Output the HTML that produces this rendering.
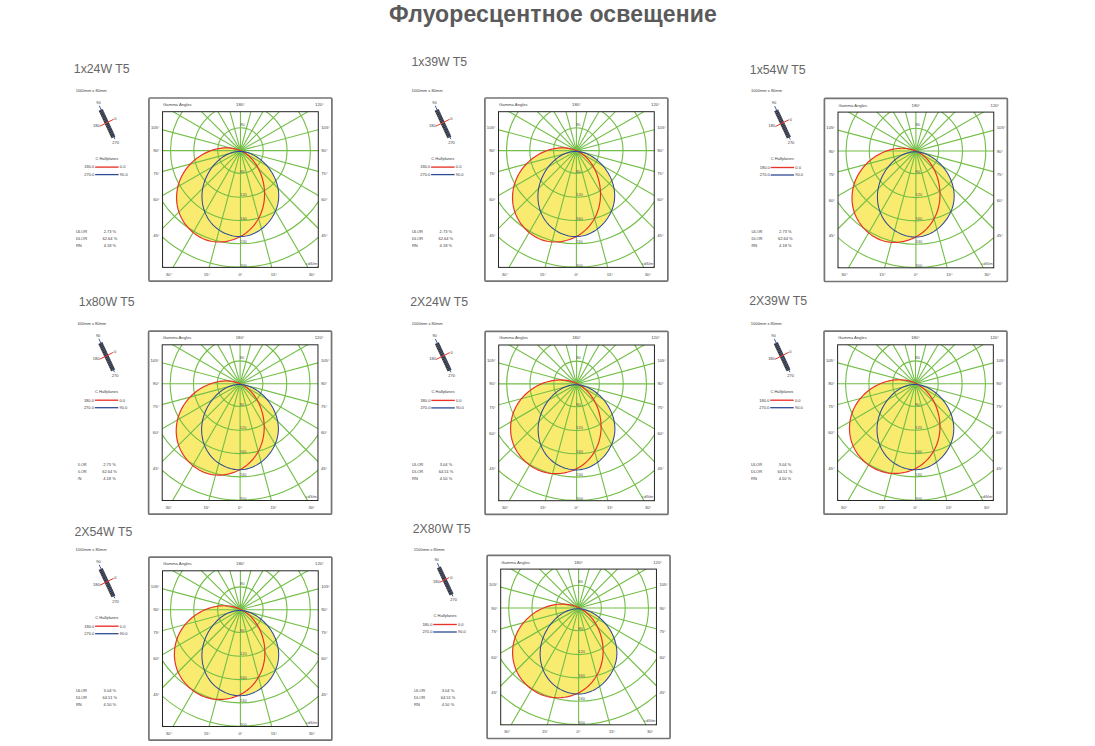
<!DOCTYPE html>
<html><head><meta charset="utf-8"><style>html,body{margin:0;padding:0;background:#fff;width:1095px;height:746px;overflow:hidden}svg{display:block}</style></head>
<body><svg width="1095" height="746" viewBox="0 0 1095 746">
<defs><clipPath id="ic"><rect x="-77.9" y="-38.9" width="155.75" height="155.7"/></clipPath><clipPath id="lc"><rect x="-162.3" y="-70" width="400" height="220"/></clipPath><g id="p1"><rect x="-91.5" y="-52.6" width="182.95" height="183.1" rx="1" fill="none" stroke="#747474" stroke-width="1.7"/><g clip-path="url(#ic)"><path d="M0.02,0.02 -1.53,-0.61 -3.12,-1.15 -4.74,-1.62 -6.40,-2.00 -8.08,-2.30 -9.78,-2.52 -11.51,-2.67 -13.25,-2.73 -15.01,-2.73 -16.77,-2.64 -18.55,-2.49 -20.32,-2.26 -22.10,-1.97 -23.87,-1.60 -25.63,-1.17 -27.38,-0.66 -29.12,-0.10 -30.84,0.54 -32.54,1.23 -34.22,1.99 -35.87,2.80 -37.49,3.68 -39.09,4.61 -40.65,5.59 -42.18,6.63 -43.67,7.72 -45.12,8.86 -46.53,10.05 -47.89,11.28 -49.22,12.56 -50.49,13.88 -51.71,15.25 -52.89,16.65 -54.01,18.09 -55.08,19.56 -56.10,21.07 -57.06,22.62 -57.96,24.19 -58.80,25.79 -59.58,27.42 -60.30,29.07 -60.95,30.75 -61.54,32.45 -62.07,34.16 -62.52,35.90 -62.92,37.64 -63.24,39.40 -63.50,41.17 -63.70,42.94 -63.82,44.71 -63.88,46.49 -63.87,48.27 -63.79,50.05 -63.64,51.81 -63.42,53.57 -63.13,55.33 -62.77,57.06 -62.34,58.79 -61.84,60.49 -61.27,62.18 -60.62,63.84 -59.91,65.48 -59.13,67.09 -58.28,68.67 -57.37,70.22 -56.41,71.73 -55.38,73.21 -54.30,74.64 -53.16,76.04 -51.98,77.39 -50.74,78.69 -49.45,79.94 -48.13,81.15 -46.75,82.29 -45.34,83.38 -43.89,84.41 -42.40,85.38 -40.88,86.29 -39.32,87.13 -37.74,87.90 -36.12,88.59 -34.49,89.22 -32.82,89.76 -31.14,90.23 -29.44,90.62 -27.72,90.93 -25.99,91.16 -24.25,91.32 -22.50,91.40 -20.74,91.40 -18.99,91.33 -17.23,91.19 -15.48,90.98 -13.74,90.70 -12.00,90.35 -10.28,89.94 -8.57,89.45 -6.88,88.90 -5.21,88.29 -3.57,87.61 -1.95,86.87 -0.36,86.07 1.20,85.21 2.72,84.29 4.21,83.31 5.65,82.27 7.05,81.18 8.41,80.04 9.71,78.84 10.97,77.58 12.17,76.28 13.32,74.93 14.42,73.54 15.46,72.10 16.45,70.62 17.38,69.10 18.26,67.54 19.08,65.95 19.84,64.32 20.54,62.66 21.18,60.97 21.76,59.26 22.27,57.52 22.73,55.75 23.12,53.97 23.45,52.16 23.71,50.34 23.91,48.51 24.04,46.66 24.11,44.80 24.12,42.94 24.06,41.07 23.94,39.21 23.76,37.35 23.52,35.49 23.22,33.65 22.86,31.81 22.44,29.99 21.96,28.19 21.43,26.42 20.84,24.66 20.20,22.94 19.50,21.24 18.75,19.58 17.95,17.95 17.09,16.37 16.18,14.82 15.22,13.33 14.21,11.88 13.16,10.48 12.05,9.14 10.89,7.85 9.69,6.63 8.44,5.47 7.15,4.38 5.81,3.35 4.43,2.40 3.00,1.53 1.53,0.73Z" fill="#f8eb70"/><path d="M-0.25,0.80 1.21,0.88 2.67,1.04 4.13,1.29 5.58,1.61 7.04,2.01 8.48,2.48 9.91,3.03 11.34,3.64 12.75,4.31 14.14,5.05 15.51,5.85 16.86,6.71 18.19,7.62 19.50,8.59 20.77,9.61 22.01,10.67 23.23,11.78 24.40,12.93 25.54,14.12 26.64,15.35 27.70,16.61 28.71,17.91 29.68,19.24 30.60,20.59 31.48,21.98 32.30,23.38 33.08,24.82 33.81,26.27 34.49,27.75 35.12,29.24 35.69,30.75 36.21,32.27 36.68,33.81 37.08,35.35 37.44,36.91 37.73,38.47 37.96,40.04 38.13,41.61 38.24,43.19 38.29,44.76 38.27,46.33 38.19,47.90 38.04,49.46 37.82,51.02 37.54,52.57 37.20,54.10 36.79,55.62 36.32,57.13 35.80,58.62 35.21,60.09 34.57,61.54 33.88,62.97 33.13,64.37 32.34,65.75 31.49,67.09 30.60,68.41 29.66,69.70 28.67,70.95 27.65,72.17 26.58,73.34 25.48,74.48 24.33,75.58 23.16,76.63 21.94,77.64 20.70,78.60 19.42,79.51 18.12,80.37 16.78,81.18 15.42,81.93 14.04,82.62 12.64,83.26 11.21,83.83 9.77,84.35 8.30,84.79 6.82,85.18 5.33,85.49 3.83,85.73 2.31,85.90 0.79,86.00 -0.75,86.02 -2.28,85.98 -3.82,85.86 -5.35,85.67 -6.88,85.42 -8.40,85.09 -9.92,84.71 -11.41,84.26 -12.90,83.75 -14.36,83.18 -15.80,82.55 -17.22,81.86 -18.61,81.12 -19.96,80.32 -21.29,79.47 -22.58,78.57 -23.83,77.62 -25.04,76.62 -26.20,75.57 -27.32,74.48 -28.38,73.34 -29.40,72.16 -30.36,70.94 -31.27,69.68 -32.13,68.38 -32.94,67.05 -33.69,65.69 -34.39,64.29 -35.04,62.87 -35.63,61.42 -36.16,59.95 -36.64,58.45 -37.07,56.93 -37.44,55.40 -37.76,53.85 -38.02,52.28 -38.22,50.70 -38.36,49.11 -38.45,47.51 -38.48,45.90 -38.45,44.29 -38.36,42.67 -38.21,41.06 -38.01,39.45 -37.74,37.84 -37.42,36.23 -37.03,34.63 -36.59,33.04 -36.10,31.47 -35.55,29.91 -34.95,28.36 -34.29,26.83 -33.59,25.33 -32.84,23.85 -32.05,22.39 -31.21,20.96 -30.33,19.56 -29.40,18.19 -28.44,16.86 -27.43,15.56 -26.40,14.30 -25.32,13.09 -24.21,11.92 -23.07,10.79 -21.90,9.71 -20.70,8.68 -19.47,7.70 -18.22,6.78 -16.94,5.92 -15.64,5.11 -14.32,4.37 -12.97,3.69 -11.61,3.07 -10.23,2.53 -8.84,2.05 -7.43,1.65 -6.01,1.32 -4.58,1.07 -3.15,0.90 -1.70,0.81Z" fill="#f8eb70"/><g fill="none" stroke="#72be46" stroke-width="1.1"><circle cx="0" cy="0" r="22.80"/><circle cx="0" cy="0" r="46.60"/><circle cx="0" cy="0" r="69.90"/><circle cx="0" cy="0" r="93.20"/><circle cx="0" cy="0" r="116.50"/><circle cx="0" cy="0" r="139.80"/><line x1="-220.00" y1="-0.00" x2="220.00" y2="0.00"/><line x1="-212.50" y1="-56.94" x2="212.50" y2="56.94"/><line x1="-190.53" y1="-110.00" x2="190.53" y2="110.00"/><line x1="-155.56" y1="-155.56" x2="155.56" y2="155.56"/><line x1="-110.00" y1="-190.53" x2="110.00" y2="190.53"/><line x1="-56.94" y1="-212.50" x2="56.94" y2="212.50"/><line x1="-0.00" y1="-220.00" x2="0.00" y2="220.00"/><line x1="56.94" y1="-212.50" x2="-56.94" y2="212.50"/><line x1="110.00" y1="-190.53" x2="-110.00" y2="190.53"/><line x1="155.56" y1="-155.56" x2="-155.56" y2="155.56"/><line x1="190.53" y1="-110.00" x2="-190.53" y2="110.00"/><line x1="212.50" y1="-56.94" x2="-212.50" y2="56.94"/></g><path d="M0.02,0.02 -1.53,-0.61 -3.12,-1.15 -4.74,-1.62 -6.40,-2.00 -8.08,-2.30 -9.78,-2.52 -11.51,-2.67 -13.25,-2.73 -15.01,-2.73 -16.77,-2.64 -18.55,-2.49 -20.32,-2.26 -22.10,-1.97 -23.87,-1.60 -25.63,-1.17 -27.38,-0.66 -29.12,-0.10 -30.84,0.54 -32.54,1.23 -34.22,1.99 -35.87,2.80 -37.49,3.68 -39.09,4.61 -40.65,5.59 -42.18,6.63 -43.67,7.72 -45.12,8.86 -46.53,10.05 -47.89,11.28 -49.22,12.56 -50.49,13.88 -51.71,15.25 -52.89,16.65 -54.01,18.09 -55.08,19.56 -56.10,21.07 -57.06,22.62 -57.96,24.19 -58.80,25.79 -59.58,27.42 -60.30,29.07 -60.95,30.75 -61.54,32.45 -62.07,34.16 -62.52,35.90 -62.92,37.64 -63.24,39.40 -63.50,41.17 -63.70,42.94 -63.82,44.71 -63.88,46.49 -63.87,48.27 -63.79,50.05 -63.64,51.81 -63.42,53.57 -63.13,55.33 -62.77,57.06 -62.34,58.79 -61.84,60.49 -61.27,62.18 -60.62,63.84 -59.91,65.48 -59.13,67.09 -58.28,68.67 -57.37,70.22 -56.41,71.73 -55.38,73.21 -54.30,74.64 -53.16,76.04 -51.98,77.39 -50.74,78.69 -49.45,79.94 -48.13,81.15 -46.75,82.29 -45.34,83.38 -43.89,84.41 -42.40,85.38 -40.88,86.29 -39.32,87.13 -37.74,87.90 -36.12,88.59 -34.49,89.22 -32.82,89.76 -31.14,90.23 -29.44,90.62 -27.72,90.93 -25.99,91.16 -24.25,91.32 -22.50,91.40 -20.74,91.40 -18.99,91.33 -17.23,91.19 -15.48,90.98 -13.74,90.70 -12.00,90.35 -10.28,89.94 -8.57,89.45 -6.88,88.90 -5.21,88.29 -3.57,87.61 -1.95,86.87 -0.36,86.07 1.20,85.21 2.72,84.29 4.21,83.31 5.65,82.27 7.05,81.18 8.41,80.04 9.71,78.84 10.97,77.58 12.17,76.28 13.32,74.93 14.42,73.54 15.46,72.10 16.45,70.62 17.38,69.10 18.26,67.54 19.08,65.95 19.84,64.32 20.54,62.66 21.18,60.97 21.76,59.26 22.27,57.52 22.73,55.75 23.12,53.97 23.45,52.16 23.71,50.34 23.91,48.51 24.04,46.66 24.11,44.80 24.12,42.94 24.06,41.07 23.94,39.21 23.76,37.35 23.52,35.49 23.22,33.65 22.86,31.81 22.44,29.99 21.96,28.19 21.43,26.42 20.84,24.66 20.20,22.94 19.50,21.24 18.75,19.58 17.95,17.95 17.09,16.37 16.18,14.82 15.22,13.33 14.21,11.88 13.16,10.48 12.05,9.14 10.89,7.85 9.69,6.63 8.44,5.47 7.15,4.38 5.81,3.35 4.43,2.40 3.00,1.53 1.53,0.73Z" fill="none" stroke="#e8322a" stroke-width="1.2"/><path d="M-0.25,0.80 1.21,0.88 2.67,1.04 4.13,1.29 5.58,1.61 7.04,2.01 8.48,2.48 9.91,3.03 11.34,3.64 12.75,4.31 14.14,5.05 15.51,5.85 16.86,6.71 18.19,7.62 19.50,8.59 20.77,9.61 22.01,10.67 23.23,11.78 24.40,12.93 25.54,14.12 26.64,15.35 27.70,16.61 28.71,17.91 29.68,19.24 30.60,20.59 31.48,21.98 32.30,23.38 33.08,24.82 33.81,26.27 34.49,27.75 35.12,29.24 35.69,30.75 36.21,32.27 36.68,33.81 37.08,35.35 37.44,36.91 37.73,38.47 37.96,40.04 38.13,41.61 38.24,43.19 38.29,44.76 38.27,46.33 38.19,47.90 38.04,49.46 37.82,51.02 37.54,52.57 37.20,54.10 36.79,55.62 36.32,57.13 35.80,58.62 35.21,60.09 34.57,61.54 33.88,62.97 33.13,64.37 32.34,65.75 31.49,67.09 30.60,68.41 29.66,69.70 28.67,70.95 27.65,72.17 26.58,73.34 25.48,74.48 24.33,75.58 23.16,76.63 21.94,77.64 20.70,78.60 19.42,79.51 18.12,80.37 16.78,81.18 15.42,81.93 14.04,82.62 12.64,83.26 11.21,83.83 9.77,84.35 8.30,84.79 6.82,85.18 5.33,85.49 3.83,85.73 2.31,85.90 0.79,86.00 -0.75,86.02 -2.28,85.98 -3.82,85.86 -5.35,85.67 -6.88,85.42 -8.40,85.09 -9.92,84.71 -11.41,84.26 -12.90,83.75 -14.36,83.18 -15.80,82.55 -17.22,81.86 -18.61,81.12 -19.96,80.32 -21.29,79.47 -22.58,78.57 -23.83,77.62 -25.04,76.62 -26.20,75.57 -27.32,74.48 -28.38,73.34 -29.40,72.16 -30.36,70.94 -31.27,69.68 -32.13,68.38 -32.94,67.05 -33.69,65.69 -34.39,64.29 -35.04,62.87 -35.63,61.42 -36.16,59.95 -36.64,58.45 -37.07,56.93 -37.44,55.40 -37.76,53.85 -38.02,52.28 -38.22,50.70 -38.36,49.11 -38.45,47.51 -38.48,45.90 -38.45,44.29 -38.36,42.67 -38.21,41.06 -38.01,39.45 -37.74,37.84 -37.42,36.23 -37.03,34.63 -36.59,33.04 -36.10,31.47 -35.55,29.91 -34.95,28.36 -34.29,26.83 -33.59,25.33 -32.84,23.85 -32.05,22.39 -31.21,20.96 -30.33,19.56 -29.40,18.19 -28.44,16.86 -27.43,15.56 -26.40,14.30 -25.32,13.09 -24.21,11.92 -23.07,10.79 -21.90,9.71 -20.70,8.68 -19.47,7.70 -18.22,6.78 -16.94,5.92 -15.64,5.11 -14.32,4.37 -12.97,3.69 -11.61,3.07 -10.23,2.53 -8.84,2.05 -7.43,1.65 -6.01,1.32 -4.58,1.07 -3.15,0.90 -1.70,0.81Z" fill="none" stroke="#2e4a94" stroke-width="1.05"/><g font-family="Liberation Sans, sans-serif" font-size="4" fill="#555" transform="translate(0,-0.3)"><text x="-0.3" y="-24.5">80</text><text x="-0.3" y="22.4">80</text><text x="-0.3" y="45.6">120</text><text x="-0.3" y="69.7">160</text><text x="-0.3" y="92.8">240</text><text x="-0.3" y="116.5">300</text><text x="76.85" y="114.5" text-anchor="end">cd/klm</text></g></g><rect x="-77.9" y="-38.9" width="155.75" height="155.7" fill="none" stroke="#252525" stroke-width="1.0"/><g font-family="Liberation Sans, sans-serif" font-size="4.2" fill="#444" transform="translate(0,-0.3)"><text x="-77.4" y="-44.2">Gamma Angles</text><text x="0" y="-44.2" text-anchor="middle">180°</text><text x="83.35" y="-44.2" text-anchor="end">120°</text><text x="-80.9" y="-21.4" text-anchor="end">105°</text><text x="80.85" y="-21.4">105°</text><text x="-80.9" y="1.8" text-anchor="end">90°</text><text x="80.85" y="1.8">90°</text><text x="-80.9" y="25.0" text-anchor="end">75°</text><text x="80.85" y="25.0">75°</text><text x="-80.9" y="51.0" text-anchor="end">60°</text><text x="80.85" y="51.0">60°</text><text x="-80.9" y="86.7" text-anchor="end">45°</text><text x="80.85" y="86.7">45°</text><text x="-71.5" y="125.7" text-anchor="middle">30°</text><text x="-33.5" y="125.7" text-anchor="middle">15°</text><text x="0" y="125.7" text-anchor="middle">0°</text><text x="33.5" y="125.7" text-anchor="middle">15°</text><text x="71.5" y="125.7" text-anchor="middle">30°</text></g><g font-family="Liberation Sans, sans-serif" transform="translate(0,-0.3)"><line x1="-139.75" y1="-40.4" x2="-127.0" y2="-13.0" stroke="#2b2b2b" stroke-width="4.3"/><line x1="-139.75" y1="-40.4" x2="-127.0" y2="-13.0" stroke="#9a9a9a" stroke-width="4.3" stroke-dasharray="0.6 1.2" opacity="0.7"/><line x1="-141.2" y1="-44.6" x2="-125.6" y2="-11.2" stroke="#2e4a94" stroke-width="0.9"/><g font-size="4" fill="#3a3a3a"><text x="-142" y="-46.8" text-anchor="middle">90</text><text x="-124.9" y="-6.3" text-anchor="middle">270</text><text x="-133.6" y="9.8" text-anchor="middle">C Halfplanes</text><text x="-146.2" y="18.2" text-anchor="end">180.0</text><text x="-120.6" y="18.2">0.0</text><text x="-146.2" y="25.7" text-anchor="end">270.0</text><text x="-120.6" y="25.7">90.0</text></g><line x1="-145.3" y1="16.8" x2="-121.8" y2="16.8" stroke="#e8322a" stroke-width="1.35"/><line x1="-145.3" y1="24.3" x2="-121.8" y2="24.3" stroke="#2e4a94" stroke-width="1.3"/></g></g><g id="p2"><rect x="-91.5" y="-52.6" width="182.95" height="183.1" rx="1" fill="none" stroke="#747474" stroke-width="1.7"/><g clip-path="url(#ic)"><path d="M-0.01,-0.46 -1.61,-1.17 -3.26,-1.80 -4.93,-2.34 -6.63,-2.80 -8.36,-3.19 -10.11,-3.50 -11.88,-3.72 -13.67,-3.87 -15.47,-3.95 -17.28,-3.95 -19.09,-3.87 -20.91,-3.73 -22.73,-3.51 -24.54,-3.21 -26.34,-2.85 -28.14,-2.42 -29.92,-1.92 -31.68,-1.36 -33.43,-0.73 -35.15,-0.03 -36.85,0.73 -38.52,1.55 -40.16,2.42 -41.78,3.36 -43.35,4.35 -44.90,5.39 -46.41,6.49 -47.87,7.64 -49.30,8.83 -50.68,10.08 -52.01,11.37 -53.29,12.70 -54.52,14.08 -55.70,15.49 -56.83,16.95 -57.89,18.44 -58.90,19.97 -59.84,21.53 -60.72,23.13 -61.53,24.75 -62.27,26.40 -62.95,28.08 -63.56,29.78 -64.10,31.50 -64.58,33.24 -64.99,34.99 -65.33,36.76 -65.60,38.53 -65.80,40.31 -65.93,42.09 -66.00,43.88 -66.00,45.67 -65.92,47.45 -65.78,49.22 -65.56,50.99 -65.28,52.74 -64.93,54.49 -64.50,56.21 -64.00,57.92 -63.44,59.60 -62.80,61.26 -62.09,62.89 -61.31,64.49 -60.47,66.07 -59.57,67.61 -58.60,69.11 -57.58,70.58 -56.50,72.01 -55.36,73.41 -54.18,74.75 -52.94,76.06 -51.65,77.31 -50.32,78.52 -48.95,79.67 -47.53,80.78 -46.07,81.83 -44.58,82.82 -43.05,83.75 -41.48,84.62 -39.89,85.43 -38.27,86.18 -36.62,86.86 -34.94,87.47 -33.25,88.00 -31.53,88.47 -29.80,88.86 -28.05,89.18 -26.29,89.43 -24.52,89.61 -22.74,89.72 -20.96,89.76 -19.18,89.73 -17.40,89.63 -15.63,89.47 -13.86,89.23 -12.11,88.93 -10.36,88.56 -8.64,88.13 -6.93,87.63 -5.24,87.06 -3.58,86.43 -1.95,85.74 -0.34,84.98 1.23,84.16 2.77,83.28 4.27,82.33 5.73,81.32 7.14,80.26 8.51,79.13 9.83,77.94 11.11,76.70 12.33,75.40 13.50,74.06 14.62,72.66 15.69,71.22 16.70,69.74 17.66,68.21 18.55,66.65 19.39,65.04 20.17,63.40 20.89,61.73 21.55,60.03 22.14,58.30 22.67,56.54 23.13,54.77 23.53,52.96 23.86,51.14 24.11,49.31 24.31,47.46 24.43,45.60 24.49,43.73 24.48,41.86 24.41,39.99 24.27,38.12 24.07,36.25 23.80,34.39 23.47,32.54 23.08,30.70 22.62,28.88 22.11,27.08 21.53,25.29 20.89,23.54 20.19,21.81 19.44,20.11 18.62,18.44 17.74,16.81 16.81,15.22 15.82,13.67 14.77,12.17 13.67,10.72 12.52,9.31 11.32,7.96 10.06,6.67 8.76,5.45 7.41,4.28 6.01,3.19 4.57,2.16 3.08,1.21 1.56,0.34Z" fill="#f8eb70"/><path d="M-0.25,0.80 1.21,0.88 2.67,1.04 4.13,1.29 5.58,1.61 7.04,2.01 8.48,2.48 9.91,3.03 11.34,3.64 12.75,4.31 14.14,5.05 15.51,5.85 16.86,6.71 18.19,7.62 19.50,8.59 20.77,9.61 22.01,10.67 23.23,11.78 24.40,12.93 25.54,14.12 26.64,15.35 27.70,16.61 28.71,17.91 29.68,19.24 30.60,20.59 31.48,21.98 32.30,23.38 33.08,24.82 33.81,26.27 34.49,27.75 35.12,29.24 35.69,30.75 36.21,32.27 36.68,33.81 37.08,35.35 37.44,36.91 37.73,38.47 37.96,40.04 38.13,41.61 38.24,43.19 38.29,44.76 38.27,46.33 38.19,47.90 38.04,49.46 37.82,51.02 37.54,52.57 37.20,54.10 36.79,55.62 36.32,57.13 35.80,58.62 35.21,60.09 34.57,61.54 33.88,62.97 33.13,64.37 32.34,65.75 31.49,67.09 30.60,68.41 29.66,69.70 28.67,70.95 27.65,72.17 26.58,73.34 25.48,74.48 24.33,75.58 23.16,76.63 21.94,77.64 20.70,78.60 19.42,79.51 18.12,80.37 16.78,81.18 15.42,81.93 14.04,82.62 12.64,83.26 11.21,83.83 9.77,84.35 8.30,84.79 6.82,85.18 5.33,85.49 3.83,85.73 2.31,85.90 0.79,86.00 -0.75,86.02 -2.28,85.98 -3.82,85.86 -5.35,85.67 -6.88,85.42 -8.40,85.09 -9.92,84.71 -11.41,84.26 -12.90,83.75 -14.36,83.18 -15.80,82.55 -17.22,81.86 -18.61,81.12 -19.96,80.32 -21.29,79.47 -22.58,78.57 -23.83,77.62 -25.04,76.62 -26.20,75.57 -27.32,74.48 -28.38,73.34 -29.40,72.16 -30.36,70.94 -31.27,69.68 -32.13,68.38 -32.94,67.05 -33.69,65.69 -34.39,64.29 -35.04,62.87 -35.63,61.42 -36.16,59.95 -36.64,58.45 -37.07,56.93 -37.44,55.40 -37.76,53.85 -38.02,52.28 -38.22,50.70 -38.36,49.11 -38.45,47.51 -38.48,45.90 -38.45,44.29 -38.36,42.67 -38.21,41.06 -38.01,39.45 -37.74,37.84 -37.42,36.23 -37.03,34.63 -36.59,33.04 -36.10,31.47 -35.55,29.91 -34.95,28.36 -34.29,26.83 -33.59,25.33 -32.84,23.85 -32.05,22.39 -31.21,20.96 -30.33,19.56 -29.40,18.19 -28.44,16.86 -27.43,15.56 -26.40,14.30 -25.32,13.09 -24.21,11.92 -23.07,10.79 -21.90,9.71 -20.70,8.68 -19.47,7.70 -18.22,6.78 -16.94,5.92 -15.64,5.11 -14.32,4.37 -12.97,3.69 -11.61,3.07 -10.23,2.53 -8.84,2.05 -7.43,1.65 -6.01,1.32 -4.58,1.07 -3.15,0.90 -1.70,0.81Z" fill="#f8eb70"/><g fill="none" stroke="#72be46" stroke-width="1.1"><circle cx="0" cy="0" r="22.80"/><circle cx="0" cy="0" r="46.60"/><circle cx="0" cy="0" r="69.90"/><circle cx="0" cy="0" r="93.20"/><circle cx="0" cy="0" r="116.50"/><circle cx="0" cy="0" r="139.80"/><line x1="-220.00" y1="-0.00" x2="220.00" y2="0.00"/><line x1="-212.50" y1="-56.94" x2="212.50" y2="56.94"/><line x1="-190.53" y1="-110.00" x2="190.53" y2="110.00"/><line x1="-155.56" y1="-155.56" x2="155.56" y2="155.56"/><line x1="-110.00" y1="-190.53" x2="110.00" y2="190.53"/><line x1="-56.94" y1="-212.50" x2="56.94" y2="212.50"/><line x1="-0.00" y1="-220.00" x2="0.00" y2="220.00"/><line x1="56.94" y1="-212.50" x2="-56.94" y2="212.50"/><line x1="110.00" y1="-190.53" x2="-110.00" y2="190.53"/><line x1="155.56" y1="-155.56" x2="-155.56" y2="155.56"/><line x1="190.53" y1="-110.00" x2="-190.53" y2="110.00"/><line x1="212.50" y1="-56.94" x2="-212.50" y2="56.94"/></g><path d="M-0.01,-0.46 -1.61,-1.17 -3.26,-1.80 -4.93,-2.34 -6.63,-2.80 -8.36,-3.19 -10.11,-3.50 -11.88,-3.72 -13.67,-3.87 -15.47,-3.95 -17.28,-3.95 -19.09,-3.87 -20.91,-3.73 -22.73,-3.51 -24.54,-3.21 -26.34,-2.85 -28.14,-2.42 -29.92,-1.92 -31.68,-1.36 -33.43,-0.73 -35.15,-0.03 -36.85,0.73 -38.52,1.55 -40.16,2.42 -41.78,3.36 -43.35,4.35 -44.90,5.39 -46.41,6.49 -47.87,7.64 -49.30,8.83 -50.68,10.08 -52.01,11.37 -53.29,12.70 -54.52,14.08 -55.70,15.49 -56.83,16.95 -57.89,18.44 -58.90,19.97 -59.84,21.53 -60.72,23.13 -61.53,24.75 -62.27,26.40 -62.95,28.08 -63.56,29.78 -64.10,31.50 -64.58,33.24 -64.99,34.99 -65.33,36.76 -65.60,38.53 -65.80,40.31 -65.93,42.09 -66.00,43.88 -66.00,45.67 -65.92,47.45 -65.78,49.22 -65.56,50.99 -65.28,52.74 -64.93,54.49 -64.50,56.21 -64.00,57.92 -63.44,59.60 -62.80,61.26 -62.09,62.89 -61.31,64.49 -60.47,66.07 -59.57,67.61 -58.60,69.11 -57.58,70.58 -56.50,72.01 -55.36,73.41 -54.18,74.75 -52.94,76.06 -51.65,77.31 -50.32,78.52 -48.95,79.67 -47.53,80.78 -46.07,81.83 -44.58,82.82 -43.05,83.75 -41.48,84.62 -39.89,85.43 -38.27,86.18 -36.62,86.86 -34.94,87.47 -33.25,88.00 -31.53,88.47 -29.80,88.86 -28.05,89.18 -26.29,89.43 -24.52,89.61 -22.74,89.72 -20.96,89.76 -19.18,89.73 -17.40,89.63 -15.63,89.47 -13.86,89.23 -12.11,88.93 -10.36,88.56 -8.64,88.13 -6.93,87.63 -5.24,87.06 -3.58,86.43 -1.95,85.74 -0.34,84.98 1.23,84.16 2.77,83.28 4.27,82.33 5.73,81.32 7.14,80.26 8.51,79.13 9.83,77.94 11.11,76.70 12.33,75.40 13.50,74.06 14.62,72.66 15.69,71.22 16.70,69.74 17.66,68.21 18.55,66.65 19.39,65.04 20.17,63.40 20.89,61.73 21.55,60.03 22.14,58.30 22.67,56.54 23.13,54.77 23.53,52.96 23.86,51.14 24.11,49.31 24.31,47.46 24.43,45.60 24.49,43.73 24.48,41.86 24.41,39.99 24.27,38.12 24.07,36.25 23.80,34.39 23.47,32.54 23.08,30.70 22.62,28.88 22.11,27.08 21.53,25.29 20.89,23.54 20.19,21.81 19.44,20.11 18.62,18.44 17.74,16.81 16.81,15.22 15.82,13.67 14.77,12.17 13.67,10.72 12.52,9.31 11.32,7.96 10.06,6.67 8.76,5.45 7.41,4.28 6.01,3.19 4.57,2.16 3.08,1.21 1.56,0.34Z" fill="none" stroke="#e8322a" stroke-width="1.2"/><path d="M-0.25,0.80 1.21,0.88 2.67,1.04 4.13,1.29 5.58,1.61 7.04,2.01 8.48,2.48 9.91,3.03 11.34,3.64 12.75,4.31 14.14,5.05 15.51,5.85 16.86,6.71 18.19,7.62 19.50,8.59 20.77,9.61 22.01,10.67 23.23,11.78 24.40,12.93 25.54,14.12 26.64,15.35 27.70,16.61 28.71,17.91 29.68,19.24 30.60,20.59 31.48,21.98 32.30,23.38 33.08,24.82 33.81,26.27 34.49,27.75 35.12,29.24 35.69,30.75 36.21,32.27 36.68,33.81 37.08,35.35 37.44,36.91 37.73,38.47 37.96,40.04 38.13,41.61 38.24,43.19 38.29,44.76 38.27,46.33 38.19,47.90 38.04,49.46 37.82,51.02 37.54,52.57 37.20,54.10 36.79,55.62 36.32,57.13 35.80,58.62 35.21,60.09 34.57,61.54 33.88,62.97 33.13,64.37 32.34,65.75 31.49,67.09 30.60,68.41 29.66,69.70 28.67,70.95 27.65,72.17 26.58,73.34 25.48,74.48 24.33,75.58 23.16,76.63 21.94,77.64 20.70,78.60 19.42,79.51 18.12,80.37 16.78,81.18 15.42,81.93 14.04,82.62 12.64,83.26 11.21,83.83 9.77,84.35 8.30,84.79 6.82,85.18 5.33,85.49 3.83,85.73 2.31,85.90 0.79,86.00 -0.75,86.02 -2.28,85.98 -3.82,85.86 -5.35,85.67 -6.88,85.42 -8.40,85.09 -9.92,84.71 -11.41,84.26 -12.90,83.75 -14.36,83.18 -15.80,82.55 -17.22,81.86 -18.61,81.12 -19.96,80.32 -21.29,79.47 -22.58,78.57 -23.83,77.62 -25.04,76.62 -26.20,75.57 -27.32,74.48 -28.38,73.34 -29.40,72.16 -30.36,70.94 -31.27,69.68 -32.13,68.38 -32.94,67.05 -33.69,65.69 -34.39,64.29 -35.04,62.87 -35.63,61.42 -36.16,59.95 -36.64,58.45 -37.07,56.93 -37.44,55.40 -37.76,53.85 -38.02,52.28 -38.22,50.70 -38.36,49.11 -38.45,47.51 -38.48,45.90 -38.45,44.29 -38.36,42.67 -38.21,41.06 -38.01,39.45 -37.74,37.84 -37.42,36.23 -37.03,34.63 -36.59,33.04 -36.10,31.47 -35.55,29.91 -34.95,28.36 -34.29,26.83 -33.59,25.33 -32.84,23.85 -32.05,22.39 -31.21,20.96 -30.33,19.56 -29.40,18.19 -28.44,16.86 -27.43,15.56 -26.40,14.30 -25.32,13.09 -24.21,11.92 -23.07,10.79 -21.90,9.71 -20.70,8.68 -19.47,7.70 -18.22,6.78 -16.94,5.92 -15.64,5.11 -14.32,4.37 -12.97,3.69 -11.61,3.07 -10.23,2.53 -8.84,2.05 -7.43,1.65 -6.01,1.32 -4.58,1.07 -3.15,0.90 -1.70,0.81Z" fill="none" stroke="#2e4a94" stroke-width="1.05"/><g font-family="Liberation Sans, sans-serif" font-size="4" fill="#555" transform="translate(0,-0.3)"><text x="-0.3" y="-24.5">80</text><text x="-0.3" y="22.4">80</text><text x="-0.3" y="45.6">120</text><text x="-0.3" y="69.7">160</text><text x="-0.3" y="92.8">240</text><text x="-0.3" y="116.5">300</text><text x="76.85" y="114.5" text-anchor="end">cd/klm</text></g></g><rect x="-77.9" y="-38.9" width="155.75" height="155.7" fill="none" stroke="#252525" stroke-width="1.0"/><g font-family="Liberation Sans, sans-serif" font-size="4.2" fill="#444" transform="translate(0,-0.3)"><text x="-77.4" y="-44.2">Gamma Angles</text><text x="0" y="-44.2" text-anchor="middle">180°</text><text x="83.35" y="-44.2" text-anchor="end">120°</text><text x="-80.9" y="-21.4" text-anchor="end">105°</text><text x="80.85" y="-21.4">105°</text><text x="-80.9" y="1.8" text-anchor="end">90°</text><text x="80.85" y="1.8">90°</text><text x="-80.9" y="25.0" text-anchor="end">75°</text><text x="80.85" y="25.0">75°</text><text x="-80.9" y="51.0" text-anchor="end">60°</text><text x="80.85" y="51.0">60°</text><text x="-80.9" y="86.7" text-anchor="end">45°</text><text x="80.85" y="86.7">45°</text><text x="-71.5" y="125.7" text-anchor="middle">30°</text><text x="-33.5" y="125.7" text-anchor="middle">15°</text><text x="0" y="125.7" text-anchor="middle">0°</text><text x="33.5" y="125.7" text-anchor="middle">15°</text><text x="71.5" y="125.7" text-anchor="middle">30°</text></g><g font-family="Liberation Sans, sans-serif" transform="translate(0,-0.3)"><line x1="-139.75" y1="-40.4" x2="-127.0" y2="-13.0" stroke="#2b2b2b" stroke-width="4.3"/><line x1="-139.75" y1="-40.4" x2="-127.0" y2="-13.0" stroke="#9a9a9a" stroke-width="4.3" stroke-dasharray="0.6 1.2" opacity="0.7"/><line x1="-141.2" y1="-44.6" x2="-125.6" y2="-11.2" stroke="#2e4a94" stroke-width="0.9"/><g font-size="4" fill="#3a3a3a"><text x="-142" y="-46.8" text-anchor="middle">90</text><text x="-124.9" y="-6.3" text-anchor="middle">270</text><text x="-133.6" y="9.8" text-anchor="middle">C Halfplanes</text><text x="-146.2" y="18.2" text-anchor="end">180.0</text><text x="-120.6" y="18.2">0.0</text><text x="-146.2" y="25.7" text-anchor="end">270.0</text><text x="-120.6" y="25.7">90.0</text></g><line x1="-145.3" y1="16.8" x2="-121.8" y2="16.8" stroke="#e8322a" stroke-width="1.35"/><line x1="-145.3" y1="24.3" x2="-121.8" y2="24.3" stroke="#2e4a94" stroke-width="1.3"/></g></g></defs>
<text x="389" y="22.4" font-family="Liberation Sans, sans-serif" font-size="23" font-weight="bold" fill="#5a5a5a" letter-spacing="0.15">Флуоресцентное освещение</text>
<g transform="translate(240.45,150.6)"><use href="#p1"/><g><g font-family="Liberation Sans, sans-serif" font-size="4" fill="#3a3a3a" transform="translate(0,-0.3)"><text x="-164.8" y="-58.3">1000mm x 80mm</text><line x1="-140.4" y1="-24.2" x2="-126.8" y2="-31.0" stroke="#e8322a" stroke-width="1"/><text x="-126.2" y="-30.0">0</text><text x="-140.7" y="-23.4" text-anchor="end">180</text><text x="-164.5" y="82.8">ULOR</text><text x="-130.6" y="82.8" text-anchor="middle">2.73 %</text><text x="-164.5" y="89.8">DLOR</text><text x="-130.6" y="89.8" text-anchor="middle">62.64 %</text><text x="-164.5" y="96.8">RN</text><text x="-130.6" y="96.8" text-anchor="middle">4.18 %</text></g></g></g><text x="73.80000000000001" y="73.0" font-family="Liberation Sans, sans-serif" font-size="12.3" fill="#666">1x24W T5</text><g transform="translate(576.4,150.6)"><use href="#p1"/><g><g font-family="Liberation Sans, sans-serif" font-size="4" fill="#3a3a3a" transform="translate(0,-0.3)"><text x="-164.8" y="-58.3">1000mm x 80mm</text><line x1="-140.4" y1="-24.2" x2="-126.8" y2="-31.0" stroke="#e8322a" stroke-width="1"/><text x="-126.2" y="-30.0">0</text><text x="-140.7" y="-23.4" text-anchor="end">180</text><text x="-164.5" y="82.8">ULOR</text><text x="-130.6" y="82.8" text-anchor="middle">2.73 %</text><text x="-164.5" y="89.8">DLOR</text><text x="-130.6" y="89.8" text-anchor="middle">62.64 %</text><text x="-164.5" y="96.8">RN</text><text x="-130.6" y="96.8" text-anchor="middle">4.18 %</text></g></g></g><text x="411.4" y="66.0" font-family="Liberation Sans, sans-serif" font-size="12.3" fill="#666">1x39W T5</text><g transform="translate(915.9,151.0)"><use href="#p1"/><g><g font-family="Liberation Sans, sans-serif" font-size="4" fill="#3a3a3a" transform="translate(0,-0.3)"><text x="-164.8" y="-58.3">1000mm x 80mm</text><line x1="-140.4" y1="-24.2" x2="-126.8" y2="-31.0" stroke="#e8322a" stroke-width="1"/><text x="-126.2" y="-30.0">0</text><text x="-140.7" y="-23.4" text-anchor="end">180</text><text x="-164.5" y="82.8">ULOR</text><text x="-130.6" y="82.8" text-anchor="middle">2.73 %</text><text x="-164.5" y="89.8">DLOR</text><text x="-130.6" y="89.8" text-anchor="middle">62.64 %</text><text x="-164.5" y="96.8">RN</text><text x="-130.6" y="96.8" text-anchor="middle">4.18 %</text></g></g></g><text x="749.8" y="74.0" font-family="Liberation Sans, sans-serif" font-size="12.3" fill="#666">1x54W T5</text><g transform="translate(240.1,383.7)"><use href="#p1"/><g clip-path="url(#lc)"><g font-family="Liberation Sans, sans-serif" font-size="4" fill="#3a3a3a" transform="translate(0,-0.3)"><text x="-164.8" y="-58.3">1600mm x 80mm</text><line x1="-140.4" y1="-24.2" x2="-126.8" y2="-31.0" stroke="#e8322a" stroke-width="1"/><text x="-126.2" y="-30.0">0</text><text x="-140.7" y="-23.4" text-anchor="end">180</text><text x="-164.5" y="82.8">ULOR</text><text x="-130.6" y="82.8" text-anchor="middle">2.73 %</text><text x="-164.5" y="89.8">DLOR</text><text x="-130.6" y="89.8" text-anchor="middle">62.64 %</text><text x="-164.5" y="96.8">RN</text><text x="-130.6" y="96.8" text-anchor="middle">4.18 %</text></g></g></g><text x="78.80000000000001" y="306.0" font-family="Liberation Sans, sans-serif" font-size="12.3" fill="#666">1x80W T5</text><g transform="translate(576.6,383.9)"><use href="#p2"/><g><g font-family="Liberation Sans, sans-serif" font-size="4" fill="#3a3a3a" transform="translate(0,-0.3)"><text x="-164.8" y="-58.3">1000mm x 80mm</text><line x1="-140.4" y1="-24.2" x2="-126.8" y2="-31.0" stroke="#e8322a" stroke-width="1"/><text x="-126.2" y="-30.0">0</text><text x="-140.7" y="-23.4" text-anchor="end">180</text><text x="-164.5" y="82.8">ULOR</text><text x="-130.6" y="82.8" text-anchor="middle">3.04 %</text><text x="-164.5" y="89.8">DLOR</text><text x="-130.6" y="89.8" text-anchor="middle">64.51 %</text><text x="-164.5" y="96.8">RN</text><text x="-130.6" y="96.8" text-anchor="middle">4.50 %</text></g></g></g><text x="410.2" y="306.0" font-family="Liberation Sans, sans-serif" font-size="12.3" fill="#666">2X24W T5</text><g transform="translate(915.5,383.7)"><use href="#p2"/><g><g font-family="Liberation Sans, sans-serif" font-size="4" fill="#3a3a3a" transform="translate(0,-0.3)"><text x="-164.8" y="-58.3">1000mm x 80mm</text><line x1="-140.4" y1="-24.2" x2="-126.8" y2="-31.0" stroke="#e8322a" stroke-width="1"/><text x="-126.2" y="-30.0">0</text><text x="-140.7" y="-23.4" text-anchor="end">180</text><text x="-164.5" y="82.8">ULOR</text><text x="-130.6" y="82.8" text-anchor="middle">3.04 %</text><text x="-164.5" y="89.8">DLOR</text><text x="-130.6" y="89.8" text-anchor="middle">64.51 %</text><text x="-164.5" y="96.8">RN</text><text x="-130.6" y="96.8" text-anchor="middle">4.50 %</text></g></g></g><text x="749.1999999999999" y="305.0" font-family="Liberation Sans, sans-serif" font-size="12.3" fill="#666">2X39W T5</text><g transform="translate(240.4,609.7)"><use href="#p2"/><g><g font-family="Liberation Sans, sans-serif" font-size="4" fill="#3a3a3a" transform="translate(0,-0.3)"><text x="-164.8" y="-58.3">1000mm x 80mm</text><line x1="-140.4" y1="-24.2" x2="-126.8" y2="-31.0" stroke="#e8322a" stroke-width="1"/><text x="-126.2" y="-30.0">0</text><text x="-140.7" y="-23.4" text-anchor="end">180</text><text x="-164.5" y="82.8">ULOR</text><text x="-130.6" y="82.8" text-anchor="middle">3.04 %</text><text x="-164.5" y="89.8">DLOR</text><text x="-130.6" y="89.8" text-anchor="middle">64.51 %</text><text x="-164.5" y="96.8">RN</text><text x="-130.6" y="96.8" text-anchor="middle">4.50 %</text></g></g></g><text x="74.4" y="536.0" font-family="Liberation Sans, sans-serif" font-size="12.3" fill="#666">2X54W T5</text><g transform="translate(578.6,608.0)"><use href="#p2"/><g><g font-family="Liberation Sans, sans-serif" font-size="4" fill="#3a3a3a" transform="translate(0,-0.3)"><text x="-164.8" y="-57.1">1500mm x 80mm</text><line x1="-138.7" y1="-25.5" x2="-129.3" y2="-30.2" stroke="#e8322a" stroke-width="1"/><text x="-128.4" y="-28.8">0</text><text x="-138.9" y="-24.9" text-anchor="end">180</text><text x="-164.5" y="84.0">ULOR</text><text x="-130.6" y="84.0" text-anchor="middle">3.04 %</text><text x="-164.5" y="91.0">DLOR</text><text x="-130.6" y="91.0" text-anchor="middle">64.51 %</text><text x="-164.5" y="98.0">RN</text><text x="-130.6" y="98.0" text-anchor="middle">4.50 %</text></g></g></g><text x="412.7" y="533.0" font-family="Liberation Sans, sans-serif" font-size="12.3" fill="#666">2X80W T5</text>
</svg></body></html>
